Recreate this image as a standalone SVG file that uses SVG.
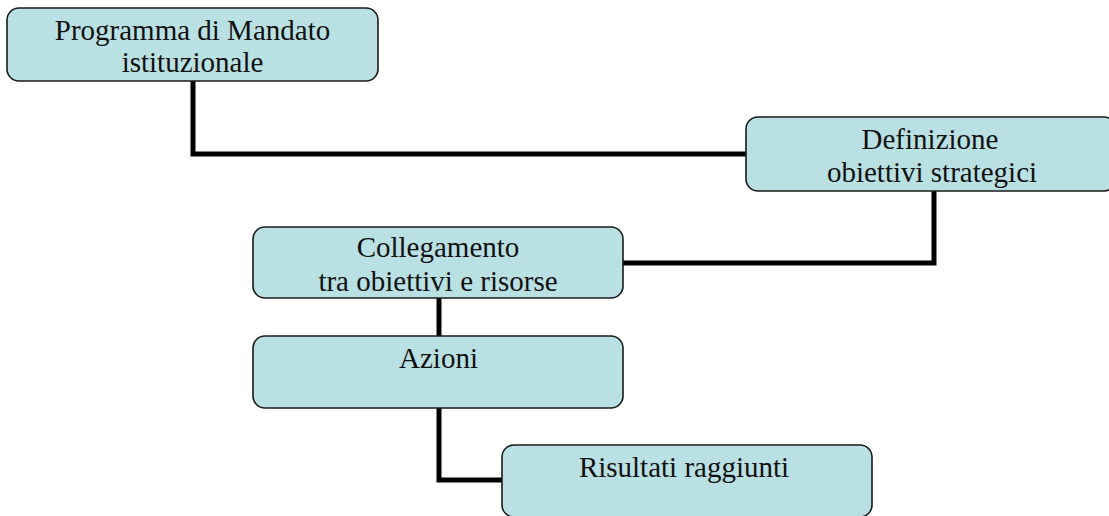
<svg xmlns="http://www.w3.org/2000/svg" width="1109" height="516" viewBox="0 0 1109 516">
<style>
.box{fill:#b9e0e3;stroke:#1a1a1a;stroke-width:1.6}
.lbl{font-size:29px;fill:#111;text-anchor:middle}
.con{fill:none;stroke:#000;stroke-width:5;stroke-linejoin:miter}
</style>
<rect width="1109" height="516" fill="#fff"/>
<g id="connectors">
<path class="con" d="M193 81 V154 H747"/>
<path class="con" d="M934 191 V263 H623"/>
<path class="con" d="M439 298 V336"/>
<path class="con" d="M439 408 V480 H502"/>
</g>
<g font-family="Liberation Serif, Tinos, Times New Roman, serif">
<g id="node-programma">
<rect class="box" x="7" y="8" width="371" height="73" rx="12"/>
<text class="lbl" x="192.5" y="40">Programma di Mandato</text>
<text class="lbl" x="192.5" y="72">istituzionale</text>
</g>
<g id="node-definizione">
<rect class="box" x="746" y="117" width="370" height="74" rx="12"/>
<text class="lbl" x="930" y="149">Definizione</text>
<text class="lbl" x="932" y="182">obiettivi strategici</text>
</g>
<g id="node-collegamento">
<rect class="box" x="253" y="227" width="370" height="71" rx="12"/>
<text class="lbl" x="438" y="257">Collegamento</text>
<text class="lbl" x="438" y="291">tra obiettivi e risorse</text>
</g>
<g id="node-azioni">
<rect class="box" x="253" y="336" width="370" height="72" rx="12"/>
<text class="lbl" x="438.5" y="368">Azioni</text>
</g>
<g id="node-risultati">
<rect class="box" x="502" y="445" width="370" height="72" rx="12"/>
<text class="lbl" x="684" y="477">Risultati raggiunti</text>
</g>
</g>
</svg>
